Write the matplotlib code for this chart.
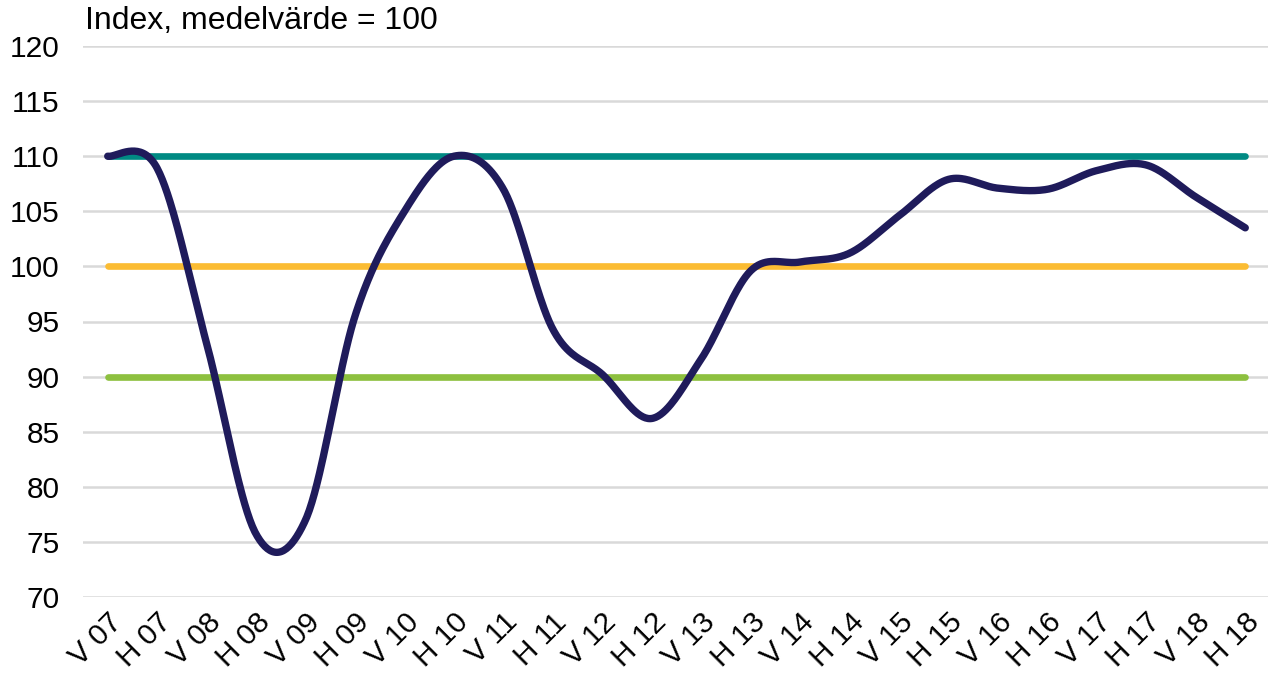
import numpy as np
import matplotlib
matplotlib.use("Agg")
import matplotlib.pyplot as plt

plt.rcParams['font.family'] = ['Liberation Sans', 'DejaVu Sans']

categories = ["V 07", "H 07", "V 08", "H 08", "V 09", "H 09", "V 10", "H 10",
              "V 11", "H 11", "V 12", "H 12", "V 13", "H 13", "V 14", "H 14",
              "V 15", "H 15", "V 16", "H 16", "V 17", "H 17", "V 18", "H 18"]
index_values = [110.0, 108.9, 93.0, 75.7, 77.0, 95.5, 105.0, 110.0,
                107.0, 94.3, 90.2, 86.2, 91.6, 99.6, 100.4, 101.2,
                104.6, 107.9, 107.1, 107.0, 108.7, 109.2, 106.3, 103.5]
ref_high = 110
ref_mid = 100
ref_low = 90

def excel_smooth(y, n=40):
    y = np.asarray(y, float)
    x = np.arange(len(y), dtype=float)
    xs, ys = [], []
    for i in range(len(y) - 1):
        x0, x1 = x[i], x[i + 1]
        y0, y1 = y[i], y[i + 1]
        xm = x[i - 1] if i > 0 else x0
        ym = y[i - 1] if i > 0 else y0
        xp = x[i + 2] if i + 2 < len(y) else x1
        yp = y[i + 2] if i + 2 < len(y) else y1
        c1x, c1y = x0 + (x1 - xm) / 6, y0 + (y1 - ym) / 6
        c2x, c2y = x1 - (xp - x0) / 6, y1 - (yp - y0) / 6
        t = np.linspace(0, 1, n)
        bx = (1-t)**3*x0 + 3*(1-t)**2*t*c1x + 3*(1-t)*t**2*c2x + t**3*x1
        by = (1-t)**3*y0 + 3*(1-t)**2*t*c1y + 3*(1-t)*t**2*c2y + t**3*y1
        xs.append(bx if i == 0 else bx[1:])
        ys.append(by if i == 0 else by[1:])
    return np.concatenate(xs), np.concatenate(ys)

fig = plt.figure(figsize=(12.68, 6.77), dpi=100)
ax = fig.add_axes([83/1268, 80/677, (1270-83)/1268, (597-46)/677])

n = len(categories)
xpos = np.arange(n)
ax.set_xlim(-0.5, n - 0.5)
ax.set_ylim(70, 120)
ax.set_yticks(np.arange(70, 121, 5))
ax.grid(axis='y', color='#D9D9D9', linewidth=1.8)
ax.set_axisbelow(True)
for s in ax.spines.values():
    s.set_visible(False)

ax.plot([xpos[0], xpos[-1]], [ref_high]*2, color='#008A83', lw=4.8, solid_capstyle='round')
ax.plot([xpos[0], xpos[-1]], [ref_mid]*2, color='#FBBC33', lw=4.8, solid_capstyle='round')
ax.plot([xpos[0], xpos[-1]], [ref_low]*2, color='#8DC03F', lw=4.8, solid_capstyle='round')

sx, sy = excel_smooth(index_values)
ax.plot(sx, sy, color='#1F1B5B', lw=5.3, solid_capstyle='round', solid_joinstyle='round')

ax.set_xticks(xpos)
ax.set_xticklabels(categories, rotation=45, ha='right', rotation_mode='anchor')
ax.tick_params(axis='both', length=0, labelsize=21.5, colors='black')
ax.tick_params(axis='x', pad=8)
ax.tick_params(axis='y', pad=17)

fig.text(85/1268, 1 - 21/677, "Index, medelvärde = 100", fontsize=23, va='center', ha='left')

fig.savefig("out.png", dpi=100)
